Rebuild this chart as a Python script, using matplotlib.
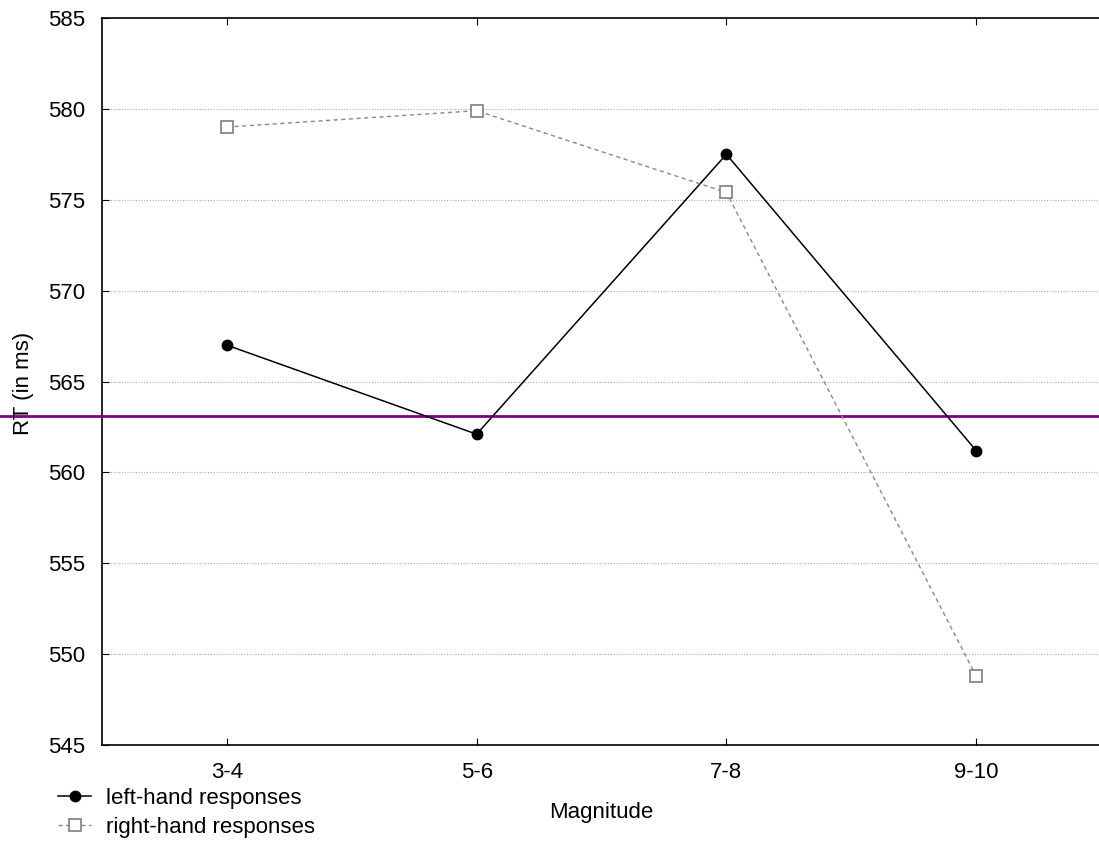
import matplotlib
matplotlib.use("Agg")
import matplotlib.pyplot as plt

categories = ["3-4", "5-6", "7-8", "9-10"]
left_hand = [567.0, 562.1, 577.5, 561.2]
right_hand = [579.0, 579.9, 575.4, 548.8]
ref_line = 563.1
yticks = [545, 550, 555, 560, 565, 570, 575, 580, 585]

plt.rcParams['font.family'] = ['Liberation Sans', 'DejaVu Sans']
FS = 16
fig = plt.figure(figsize=(10.99, 8.46), dpi=100)
ax_left, ax_w = 102 / 1099, 999 / 1099
ax = fig.add_axes([ax_left, 1 - 745/846, ax_w, (745 - 18)/846])

x = list(range(len(categories)))
ax.plot(x, left_hand, color='black', lw=1.1, marker='o', ms=7.5, mfc='black', mec='black',
        label='left-hand responses', zorder=4)
ax.plot(x, right_hand, color='#888888', lw=1, ls=(0, (3, 2.5)), marker='s', ms=8.5, mfc='white',
        mec='#888888', mew=1.3, label='right-hand responses', zorder=4)
ax.axhline(ref_line, xmin=-ax_left / ax_w, xmax=1.01, color='#800080', lw=2, zorder=3, clip_on=False)

ax.set_xlim(-0.5, 3.5)
ax.set_ylim(545, 585)
ax.set_yticks(yticks)
ax.set_xticks(x)
ax.set_xticklabels(categories)
ax.yaxis.grid(True, ls=(0, (1, 1.5)), color='#aaaaaa', lw=0.8)
ax.set_axisbelow(True)
ax.tick_params(axis='x', direction='in', top=True, labelsize=FS, length=5, pad=12)
ax.tick_params(axis='y', direction='in', labelsize=FS, length=5, pad=12)
for s in ax.spines.values():
    s.set_linewidth(1.2)
ax.spines['right'].set_visible(False)

fig.text(601/1099, 1 - 812/846, 'Magnitude', fontsize=FS, ha='center', va='center')
fig.text(24/1099, 1 - 383/846, 'RT (in ms)', fontsize=FS, ha='center', va='center', rotation=90)

fig.legend(loc='upper left', bbox_to_anchor=(58/1099, 1 - 788/846), frameon=False,
           fontsize=FS, handlelength=1.5, handletextpad=0.65, labelspacing=0.35,
           borderaxespad=0, borderpad=0)

fig.savefig('out.png', dpi=100)
